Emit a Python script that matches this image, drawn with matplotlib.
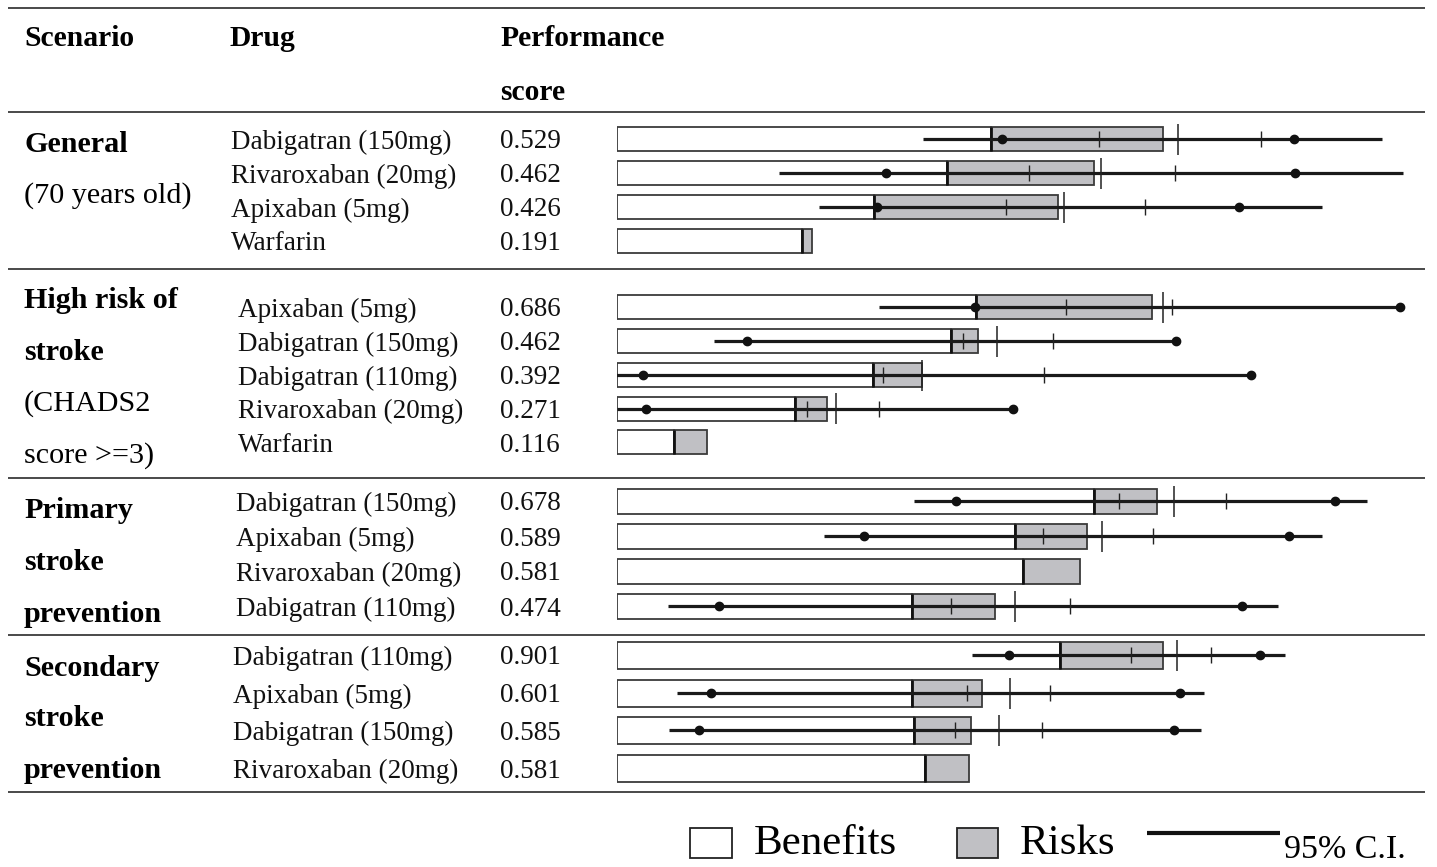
import matplotlib
matplotlib.use("Agg")
import numpy as np
from matplotlib import pyplot as plt
from matplotlib.patches import Rectangle

# ---- data ----
scenario_labels = [
    [("General", True), ("(70 years old)", False)],
    [("High risk of", True), ("stroke", True), ("(CHADS2", False), ("score >=3)", False)],
    [("Primary", True), ("stroke", True), ("prevention", True)],
    [("Secondary", True), ("stroke", True), ("prevention", True)],
]
drugs = [
    ["Dabigatran (150mg)", "Rivaroxaban (20mg)", "Apixaban (5mg)", "Warfarin"],
    ["Apixaban (5mg)", "Dabigatran (150mg)", "Dabigatran (110mg)", "Rivaroxaban (20mg)", "Warfarin"],
    ["Dabigatran (150mg)", "Apixaban (5mg)", "Rivaroxaban (20mg)", "Dabigatran (110mg)"],
    ["Dabigatran (110mg)", "Apixaban (5mg)", "Dabigatran (150mg)", "Rivaroxaban (20mg)"],
]
scores = [
    ["0.529", "0.462", "0.426", "0.191"],
    ["0.686", "0.462", "0.392", "0.271", "0.116"],
    ["0.678", "0.589", "0.581", "0.474"],
    ["0.901", "0.601", "0.585", "0.581"],
]
# bar scale (benefit end, benefit + risk end)
benefit = [0.467, 0.413, 0.321, 0.231,
           0.449, 0.418, 0.320, 0.223, 0.071,
           0.596, 0.497, 0.507, 0.369,
           0.554, 0.369, 0.371, 0.385]
total = [0.683, 0.596, 0.551, 0.244,
         0.669, 0.451, 0.381, 0.262, 0.112,
         0.675, 0.588, 0.579, 0.472,
         0.682, 0.456, 0.443, 0.440]
# 95% C.I. (None = not shown)
ci_lo = [0.382, 0.203, 0.252, None,
         0.328, 0.121, -0.018, 0.0, None,
         0.371, 0.259, None, 0.064,
         0.444, 0.075, 0.065, None]
ci_hi = [0.956, 0.983, 0.881, None,
         0.979, 0.699, 0.792, 0.495, None,
         0.938, 0.881, None, 0.826,
         0.835, 0.734, 0.730, None]
dot_lo = [0.481, 0.336, 0.325, None,
          0.447, 0.162, 0.032, 0.036, None,
          0.424, 0.309, None, 0.128,
          0.490, 0.117, 0.103, None]
dot_hi = [0.846, 0.848, 0.778, None,
          0.979, 0.699, 0.792, 0.495, None,
          0.898, 0.840, None, 0.781,
          0.804, 0.704, 0.696, None]
tick_lo = [0.603, 0.515, 0.486, None,
           0.561, 0.433, 0.332, 0.238, None,
           0.628, 0.533, None, 0.418,
           0.642, 0.437, 0.423, None]
tick_hi = [0.805, 0.698, 0.660, None,
           0.694, 0.545, 0.534, 0.327, None,
           0.761, 0.670, None, 0.566,
           0.743, 0.541, 0.531, None]
tick_mid = [0.701, 0.605, 0.559, None,
            0.683, 0.475, 0.381, 0.274, None,
            0.696, 0.606, None, 0.498,
            0.700, 0.491, 0.477, None]

# ---- layout (pixels) ----
W, H = 1437, 867
row_y = [139, 173, 207, 241,
         307, 341, 375, 408.5, 442,
         501, 536, 571, 606,
         655, 693, 730, 768]
sec_bar_h = [24, 24, 25, 27]
drug_x = [231, 238, 236, 233]
label_y = [[141, 193], [298, 350, 401, 453], [507, 559, 611], [665, 716, 768]]
rules_y = [8, 112, 269, 478, 635, 792]
bar_x0, bar_w = 617, 800
dy = 3  # text nudge

GREY = "#c0c0c4"
EDGE = "#3a3a3a"
serif = ["Liberation Serif", "DejaVu Serif"]

fig = plt.figure(figsize=(W / 100, H / 100), dpi=100)
tab = fig.add_axes([0, 0, 1, 1])
tab.set_xlim(0, W)
tab.set_ylim(H, 0)
tab.axis("off")

bars = fig.add_axes([bar_x0 / W, 0, bar_w / W, 1])
bars.set_xlim(0, 1)
bars.set_ylim(H, 0)
bars.axis("off")

# header
for x, y, s in [(24, 36, "Scenario"), (230, 36, "Drug"),
                (500, 36, "Performance"), (500, 89, "score")]:
    tab.text(x, y + dy, s, family=serif, fontsize=21.3, weight="bold", va="center")

for y in rules_y:
    tab.plot([8, 1425], [y, y], color="#2a2a2a", lw=1.2, solid_capstyle="butt")

# table text
i = 0
heights = []
for s, sec in enumerate(drugs):
    for (lab, bold), ly in zip(scenario_labels[s], label_y[s]):
        tab.text(24, ly + dy, lab, family=serif, fontsize=21.7, va="center",
                 weight="bold" if bold else "normal")
    for d, sc in zip(sec, scores[s]):
        y = row_y[i]
        tab.text(drug_x[s], y + dy, d, family=serif, fontsize=19.5, va="center", color="#111")
        tab.text(500, y + dy, sc, family=serif, fontsize=19.5, va="center", color="#111")
        heights.append(sec_bar_h[s])
        i += 1

# bars
row_y = np.array(row_y)
heights = np.array(heights)
benefit = np.array(benefit)
total = np.array(total)
bars.barh(row_y, benefit, height=heights, color="white", edgecolor=EDGE, lw=1.3, zorder=2)
bars.barh(row_y, total - benefit, left=benefit, height=heights, color=GREY,
          edgecolor=EDGE, lw=1.3, zorder=2)
bars.vlines(benefit, row_y - heights / 2, row_y + heights / 2, color="#111", lw=2, zorder=3)

for k, y in enumerate(row_y):
    if ci_lo[k] is None:
        continue
    bars.plot([ci_lo[k], ci_hi[k]], [y, y], color="#1a1a1a", lw=2.3, zorder=4,
              solid_capstyle="butt")
    bars.plot([dot_lo[k], dot_hi[k]], [y, y], "o", color="#111", ms=6, zorder=5)
    bars.vlines([tick_lo[k], tick_hi[k]], y - 8, y + 8, color="#222", lw=1, zorder=5)
    bars.vlines(tick_mid[k], y - 15.5, y + 15.5, color="#222", lw=1.1, zorder=5)

# legend
tab.add_patch(Rectangle((690, 828), 42, 30, facecolor="white", edgecolor="#222", lw=1.3))
tab.text(754, 844, "Benefits", family=serif, fontsize=31, va="center")
tab.add_patch(Rectangle((957, 828), 41, 30, facecolor=GREY, edgecolor="#222", lw=1.3))
tab.text(1020, 844, "Risks", family=serif, fontsize=31, va="center")
tab.plot([1147, 1280], [833, 833], color="#111", lw=3, solid_capstyle="butt")
tab.text(1284, 858, "95% C.I.", family=serif, fontsize=24.5, va="baseline")

fig.savefig("out.png", dpi=100)
